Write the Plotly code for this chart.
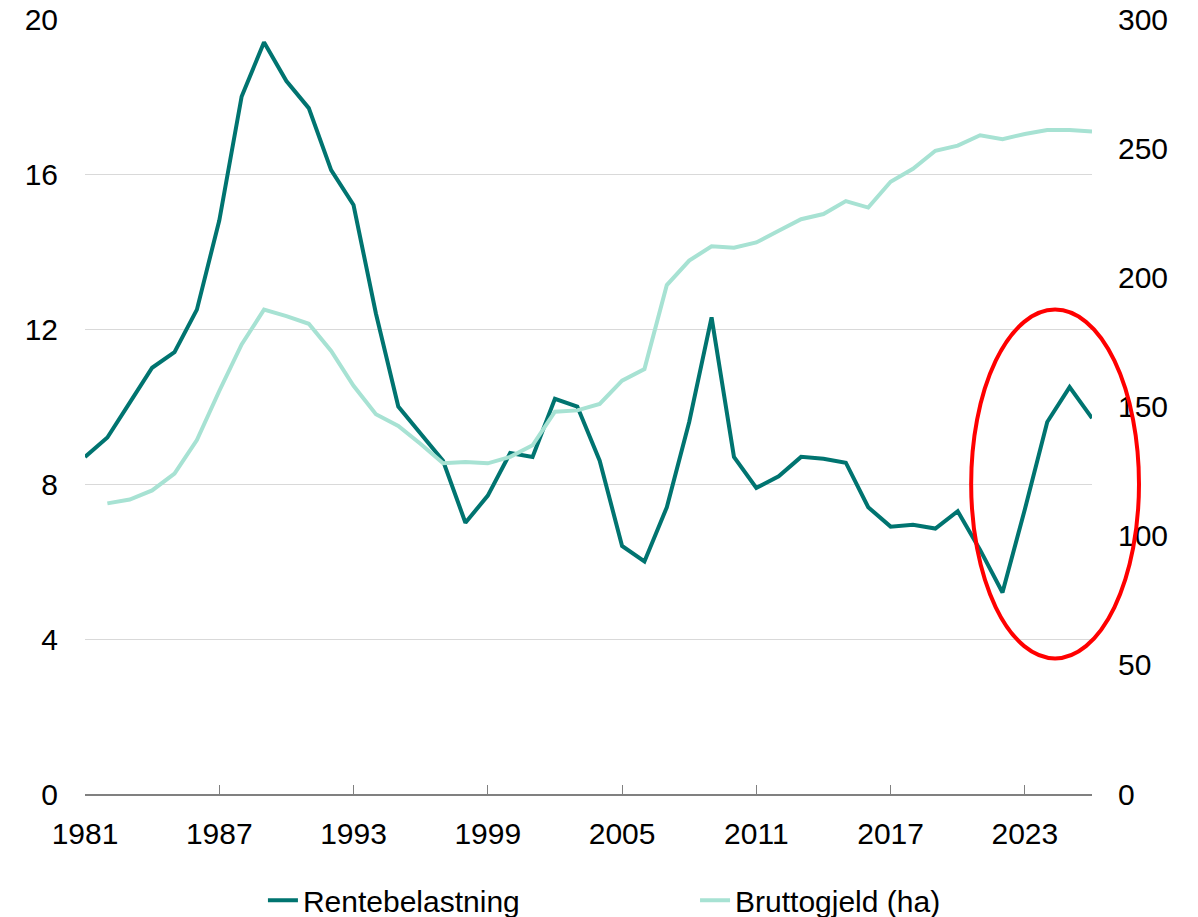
import plotly.graph_objects as go

# Rentebelastning (venstre akse), 1981-2026
years_rente = list(range(1981, 2027))
rente = [8.7, 9.2, 10.1, 11.0, 11.4, 12.5, 14.8, 18.0, 19.4, 18.4,
         17.7, 16.1, 15.2, 12.4, 10.0, 9.3, 8.6, 7.0, 7.7, 8.8,
         8.7, 10.2, 10.0, 8.6, 6.4, 6.0, 7.4, 9.6, 12.3, 8.7,
         7.9, 8.2, 8.7, 8.65, 8.55, 7.4, 6.9, 6.95, 6.85, 7.3,
         6.3, 5.2, 7.35, 9.6, 10.5, 9.7]

# Bruttogjeld (høyre akse), 1982-2026
years_gjeld = list(range(1982, 2027))
gjeld = [112.5, 114, 117.5, 124, 137, 156, 174, 187.5, 185, 182,
         171.5, 158, 147, 142.5, 135.5, 128, 128.5, 128, 130.5, 135,
         148, 148.5, 151, 160, 164.5, 197, 206.5, 212, 211.5, 213.5,
         218, 222.5, 224.5, 229.5, 227, 237, 242, 249, 251, 255,
         253.5, 255.5, 257, 257, 256.5]

x_ticks = list(range(1981, 2027, 6))
x_range = [1981, 2026]
y_left_range = [0, 20]
y_right_range = [0, 300]

# rød ring rundt de siste årene (år / venstre akse)
ring_x = [2020.6, 2028.1]
ring_y = [3.5, 12.5]

dark = "#007470"
light = "#A7E2D3"
font = "Liberation Sans, Arial, sans-serif"

fig = go.Figure()
fig.add_trace(go.Scatter(x=years_rente, y=rente, name="Rentebelastning",
                         mode="lines", line=dict(color=dark, width=4),
                         legend="legend"))
fig.add_trace(go.Scatter(x=years_gjeld, y=gjeld, name="Bruttogjeld (ha)",
                         mode="lines", line=dict(color=light, width=4),
                         yaxis="y2", legend="legend2"))

def to_paper(v, rng):
    return (v - rng[0]) / (rng[1] - rng[0])

fig.add_shape(type="circle", xref="paper", yref="paper",
              x0=to_paper(ring_x[0], x_range), x1=to_paper(ring_x[1], x_range),
              y0=to_paper(ring_y[0], y_left_range), y1=to_paper(ring_y[1], y_left_range),
              line=dict(color="#FF0000", width=4), layer="above")

legend_style = dict(orientation="h", xanchor="left", y=-0.137, yanchor="middle",
                    font=dict(size=30), bgcolor="rgba(0,0,0,0)")

fig.update_layout(
    width=1198, height=917,
    margin=dict(l=85, r=106, t=19, b=123, autoexpand=False),
    paper_bgcolor="white", plot_bgcolor="white",
    font=dict(family=font, size=30, color="black"),
    showlegend=True,
    legend=dict(x=0.1767, **legend_style),
    legend2=dict(x=0.6058, **legend_style),
    xaxis=dict(range=x_range, tickvals=x_ticks, showgrid=False, zeroline=False,
               showline=True, linecolor="#808080", linewidth=1.5,
               ticks="inside", ticklen=9, tickcolor="#808080",
               ticklabelstandoff=12, automargin=False, ticklabeloverflow="allow"),
    yaxis=dict(range=y_left_range, dtick=4, showgrid=True, gridcolor="#D9D9D9",
               gridwidth=1, zeroline=False, showline=False, ticks="",
               ticklabelstandoff=26, automargin=False, ticklabeloverflow="allow"),
    yaxis2=dict(range=y_right_range, dtick=50, overlaying="y", side="right",
                showgrid=False, zeroline=False, showline=False, ticks="",
                ticklabelstandoff=25, automargin=False, ticklabeloverflow="allow"),
)

# drop the browser's default 8px body margin so the figure fills the window
fig.write_html("out.html", config={"displayModeBar": False},
               post_script="document.body.style.margin = '0';")
